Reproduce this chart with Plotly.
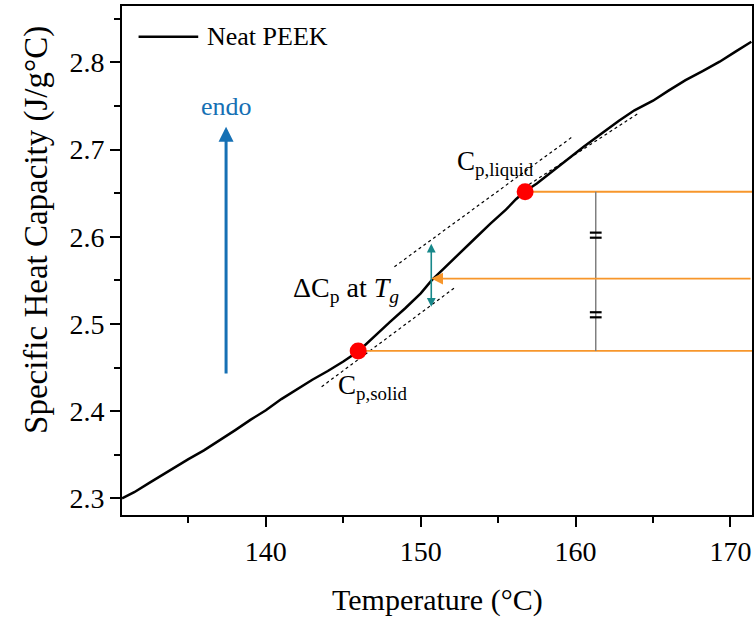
import plotly.graph_objects as go

# ---- data ----
temperature = [130.71, 131.5, 132.5, 133.8, 135.0, 136.0, 137.0, 138.0, 139.0, 140.0,
               141.0, 142.0, 143.0, 144.0, 145.0, 146.0, 147.0, 148.0, 149.0, 150.0,
               150.7, 151.5, 152.5, 153.5, 154.5, 155.5, 156.15, 156.7, 157.5, 158.5, 159.6,
               160.5, 161.7, 162.8, 163.8, 165.0, 166.0, 167.1, 168.2, 169.3, 170.3, 171.35]
heat_capacity = [2.300, 2.307, 2.318, 2.3325, 2.345, 2.355, 2.366, 2.378, 2.390, 2.401,
                 2.4138, 2.425, 2.436, 2.446, 2.457, 2.469, 2.486, 2.502, 2.518, 2.535,
                 2.550, 2.564, 2.581, 2.598, 2.615, 2.631, 2.643, 2.6516, 2.661, 2.675, 2.690,
                 2.703, 2.7186, 2.733, 2.745, 2.756, 2.7675, 2.7796, 2.790, 2.8007, 2.812, 2.8236]

T_solid, Cp_solid = 145.96, 2.469
T_liquid, Cp_liquid = 156.74, 2.6516
T_g, Cp_g = 150.68, 2.552
dCp_low, dCp_high = 2.518, 2.592

solid_tangent_T = [143.6, 152.3]
solid_tangent_Cp = [2.428, 2.543]
liquid_tangent_T = [148.3, 159.8]
liquid_tangent_Cp = [2.5656, 2.7147]
liquid_fit_T = [157.0, 164.0]
liquid_fit_Cp = [2.660, 2.741]

bracket_T = 161.3
endo_T = 137.43
endo_Cp = [2.4414, 2.7262]

x_range = [130.71, 171.39]
y_range = [2.2809, 2.8646]

FONT = "Liberation Serif"
ORANGE = "#F7962B"
TEAL = "#17888A"
BLUE = "#1670B4"

fig = go.Figure()
fig.add_trace(go.Scatter(x=temperature, y=heat_capacity, mode="lines",
                         line=dict(color="black", width=2.5), name="Neat PEEK"))
fig.add_trace(go.Scatter(x=[T_solid, T_liquid], y=[Cp_solid, Cp_liquid], mode="markers",
                         marker=dict(color="#FF0000", size=17), showlegend=False))

shapes = []
dash = dict(color="black", width=1.2, dash="3px,3px")
for tx, cy in [(solid_tangent_T, solid_tangent_Cp), (liquid_tangent_T, liquid_tangent_Cp),
               (liquid_fit_T, liquid_fit_Cp)]:
    shapes.append(dict(type="line", xref="x", yref="y", x0=tx[0], x1=tx[1], y0=cy[0], y1=cy[1],
                       line=dash, layer="below"))
# orange horizontal lines
shapes.append(dict(type="line", xref="x", yref="y", x0=T_liquid + 0.3, x1=x_range[1],
                   y0=Cp_liquid, y1=Cp_liquid, line=dict(color=ORANGE, width=1.8), layer="below"))
shapes.append(dict(type="line", xref="x", yref="y", x0=T_solid + 0.3, x1=x_range[1],
                   y0=Cp_solid, y1=Cp_solid, line=dict(color=ORANGE, width=1.8), layer="below"))
# gray bracket line
shapes.append(dict(type="line", xref="x", yref="y", x0=bracket_T, x1=bracket_T,
                   y0=Cp_solid, y1=Cp_liquid, line=dict(color="#7F7F7F", width=1.5)))
# equality marks
for mid in [(Cp_liquid + Cp_g) / 2, (Cp_g + Cp_solid) / 2]:
    for off in (-0.0029, 0.0029):
        shapes.append(dict(type="line", xref="x", yref="y", x0=bracket_T - 0.38, x1=bracket_T + 0.38,
                           y0=mid + off, y1=mid + off, line=dict(color="black", width=2.2)))
# legend line
shapes.append(dict(type="line", xref="paper", yref="paper", x0=0.0263, x1=0.121,
                   y0=0.9397, y1=0.9397, line=dict(color="black", width=2.5)))

annotations = [
    dict(xref="paper", yref="paper", x=0.132, y=0.9397, xanchor="left", yanchor="middle",
         text="Neat PEEK", showarrow=False, font=dict(size=26, family=FONT, color="black")),
    # endo arrow
    dict(x=endo_T, y=endo_Cp[1], ax=endo_T, ay=endo_Cp[0], xref="x", yref="y", axref="x", ayref="y",
         text="", showarrow=True, arrowhead=2, arrowsize=1.0, arrowwidth=3, arrowcolor=BLUE, standoff=0),
    dict(x=endo_T, y=endo_Cp[1] + 0.023, xref="x", yref="y", text="endo", showarrow=False,
         font=dict(size=26, family=FONT, color=BLUE)),
    # delta Cp double arrow
    dict(x=T_g, y=dCp_high, ax=T_g, ay=dCp_low, xref="x", yref="y", axref="x", ayref="y",
         text="", showarrow=True, arrowhead=2, arrowside="end+start", arrowsize=1.1, arrowwidth=1.6,
         arrowcolor=TEAL, standoff=0, startstandoff=0),
    # orange arrow to Tg
    dict(x=T_g, y=Cp_g, ax=x_range[1], ay=Cp_g, xref="x", yref="y", axref="x", ayref="y",
         text="", showarrow=True, arrowhead=2, arrowsize=1.3, arrowwidth=1.8, arrowcolor=ORANGE, standoff=0),
    # labels
    dict(x=154.81, y=2.6845, xref="x", yref="y", text="C<sub>p,liquid</sub>", showarrow=False,
         font=dict(size=27, family=FONT, color="black")),
    dict(x=146.89, y=2.4276, xref="x", yref="y", text="C<sub>p,solid</sub>", showarrow=False,
         font=dict(size=27, family=FONT, color="black")),
    dict(x=148.74, y=2.540, xref="x", yref="y", xanchor="right", text="ΔC<sub>p</sub> at <i>T</i><sub><i>g</i></sub>",
         showarrow=False, font=dict(size=28, family=FONT, color="black")),
    # axis titles
    dict(xref="paper", yref="paper", x=0.5, y=0, yshift=-85, yanchor="middle", xanchor="center",
         text="Temperature (°C)", showarrow=False, font=dict(size=30, family=FONT, color="black")),
    dict(xref="paper", yref="paper", x=0, xshift=-85, y=0.56, textangle=-90, xanchor="center", yanchor="middle",
         text="Specific Heat Capacity (J/g°C)", showarrow=False, font=dict(size=33, family=FONT, color="black")),
]

axis_common = dict(showline=True, linewidth=2, linecolor="black", mirror=True, ticks="outside",
                   ticklen=10, tickwidth=2, tickcolor="black", showgrid=False, zeroline=False,
                   automargin=False, tickfont=dict(size=28, family=FONT, color="black"))

fig.update_layout(
    width=755, height=621,
    margin=dict(l=122, r=3, t=6, b=106),
    plot_bgcolor="white", paper_bgcolor="white",
    showlegend=False,
    font=dict(family=FONT, size=28, color="black"),
    xaxis=dict(range=x_range, dtick=10, tick0=0,
               minor=dict(ticks="outside", ticklen=6, tickwidth=2, tickcolor="black", dtick=5, tick0=0),
               **axis_common),
    yaxis=dict(range=y_range, dtick=0.1, tick0=0, tickformat=".1f",
               minor=dict(ticks="outside", ticklen=6, tickwidth=2, tickcolor="black", dtick=0.05, tick0=0),
               **axis_common),
    shapes=shapes,
    annotations=annotations,
)

fig.write_html("out.html", config={"displayModeBar": False},
               post_script="document.body.style.margin='0';document.body.style.overflow='hidden';")
